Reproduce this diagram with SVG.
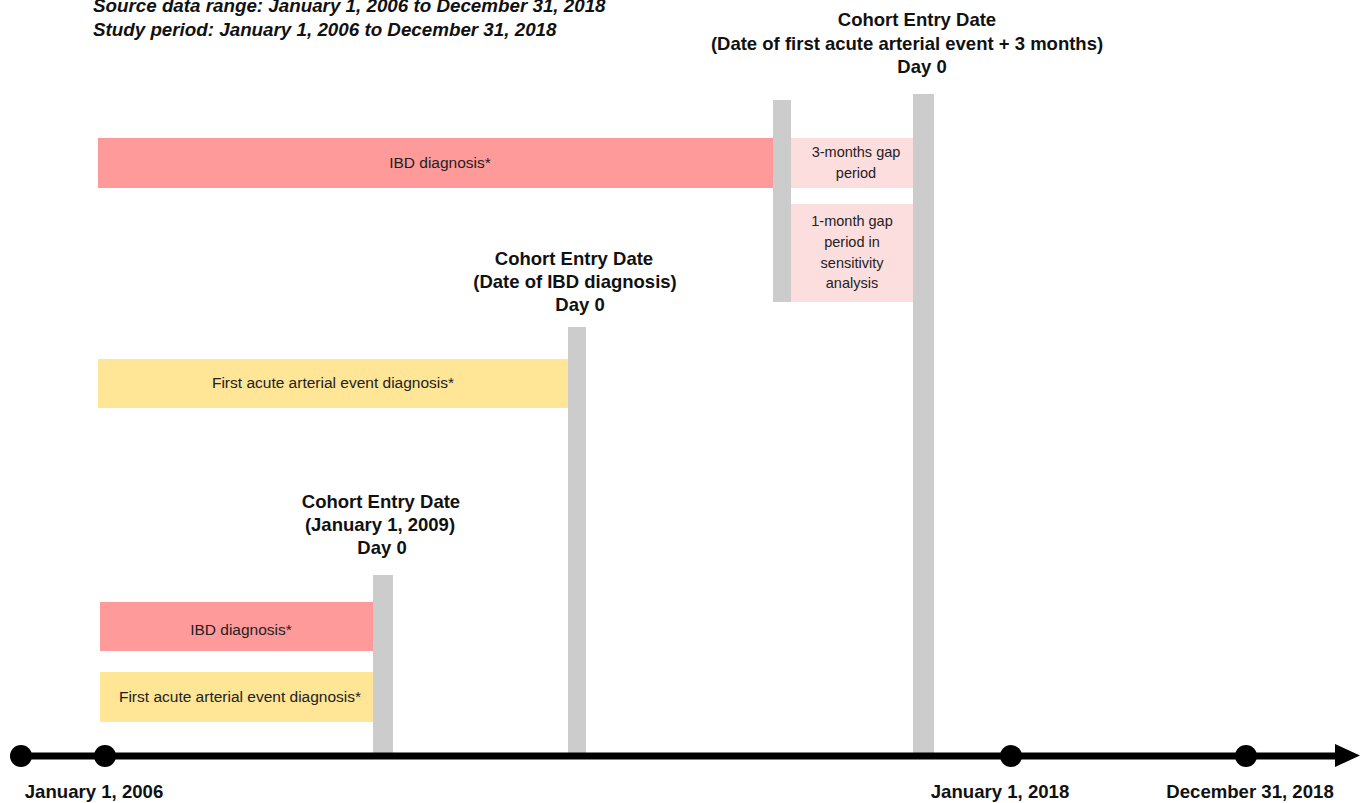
<svg xmlns="http://www.w3.org/2000/svg" width="1365" height="803" viewBox="0 0 1365 803">
<style>
  .hdr { font-family: "Liberation Sans", Arial, sans-serif; font-size: 18.8px; font-weight: bold; font-style: italic; fill: #111; }
  .title { font-family: "Liberation Sans", Arial, sans-serif; font-size: 18.5px; font-weight: bold; fill: #111; text-anchor: middle; }
  .lbl { font-family: "Liberation Sans", Arial, sans-serif; font-size: 15.5px; fill: #222; text-anchor: middle; }
  .sm { font-family: "Liberation Sans", Arial, sans-serif; font-size: 14.5px; fill: #222; text-anchor: middle; }
  .axl { font-family: "Liberation Sans", Arial, sans-serif; font-size: 18.6px; font-weight: bold; fill: #111; text-anchor: middle; }
  .bar { fill: #cccccc; }
  .red { fill: #ff9a9a; }
  .pink { fill: #fddede; }
  .yel { fill: #ffe596; }
  .dot { fill: #000; }
</style>
<rect width="1365" height="803" fill="#ffffff"/>

<g id="header">
  <text class="hdr" x="93" y="12">Source data range: January 1, 2006 to December 31, 2018</text>
  <text class="hdr" x="93" y="36">Study period: January 1, 2006 to December 31, 2018</text>
</g>

<g id="scenario-gap">
  <rect class="red" x="98" y="138" width="675" height="50"/>
  <text class="lbl" x="440" y="168">IBD diagnosis*</text>
  <rect class="bar" x="773" y="100" width="18" height="202"/>
  <rect class="pink" x="791" y="138" width="122" height="50"/>
  <text class="sm" x="856" y="157">3-months gap</text>
  <text class="sm" x="856" y="178">period</text>
  <rect class="pink" x="791" y="204" width="122" height="98"/>
  <text class="sm" x="852" y="226">1-month gap</text>
  <text class="sm" x="852" y="247">period in</text>
  <text class="sm" x="852" y="268">sensitivity</text>
  <text class="sm" x="852" y="288">analysis</text>
  <rect class="bar" x="913" y="94" width="21" height="662"/>
  <text class="title" x="917" y="26">Cohort Entry Date</text>
  <text class="title" x="907" y="50">(Date of first acute arterial event + 3 months)</text>
  <text class="title" x="922" y="73">Day 0</text>
</g>

<g id="scenario-ibd">
  <rect class="yel" x="98" y="359" width="470" height="49"/>
  <text class="lbl" x="333" y="388">First acute arterial event diagnosis*</text>
  <rect class="bar" x="568" y="327" width="18" height="429"/>
  <text class="title" x="574" y="265">Cohort Entry Date</text>
  <text class="title" x="575" y="288">(Date of IBD diagnosis)</text>
  <text class="title" x="580" y="311">Day 0</text>
</g>

<g id="scenario-2009">
  <rect class="red" x="100" y="602" width="273" height="49"/>
  <text class="lbl" x="241" y="635">IBD diagnosis*</text>
  <rect class="yel" x="100" y="672" width="273" height="50"/>
  <text class="lbl" x="240" y="702">First acute arterial event diagnosis*</text>
  <rect class="bar" x="373" y="575" width="20" height="181"/>
  <text class="title" x="381" y="508">Cohort Entry Date</text>
  <text class="title" x="380" y="531">(January 1, 2009)</text>
  <text class="title" x="382" y="554">Day 0</text>
</g>

<g id="connectors">
  <line x1="21" y1="756" x2="1337" y2="756" stroke="#000" stroke-width="7"/>
  <polygon points="1335,744 1360,755.5 1335,767" fill="#000"/>
</g>

<g id="axis-points">
  <circle class="dot" cx="21" cy="756" r="11"/>
  <circle class="dot" cx="105" cy="756" r="11"/>
  <circle class="dot" cx="1011" cy="756" r="11"/>
  <circle class="dot" cx="1246" cy="756" r="11"/>
  <text class="axl" x="94" y="798">January 1, 2006</text>
  <text class="axl" x="1000" y="798">January 1, 2018</text>
  <text class="axl" x="1250" y="798">December 31, 2018</text>
</g>
</svg>
